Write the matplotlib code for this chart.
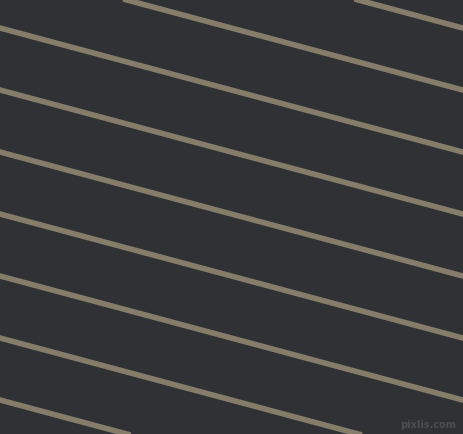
import matplotlib
matplotlib.use("Agg")
import matplotlib.pyplot as plt
import numpy as np

#---DATA---
# y position (px from top) where each stripe meets the left edge
intercepts = [-95, -33, 29, 91, 153, 215, 277, 339, 401]
slope = 0.268  # tan(15 deg), stripes fall to the right
watermark = "pixlis.com"

#---STYLE---
bg_color = "#2f3135"
line_color = "#857d69"

#---PLOT---
fig = plt.figure(figsize=(4.64, 4.35), dpi=100)
fig.patch.set_facecolor(bg_color)
ax = fig.add_axes([0, 0, 1, 1])
ax.set_facecolor(bg_color)
ax.set_xlim(0, 464)
ax.set_ylim(435, 0)
ax.axis("off")

xs = np.array([-10, 474])
for b in intercepts:
    ax.plot(xs, b + slope * xs, color=line_color, linewidth=4.0,
            solid_capstyle="butt")

ax.text(456, 428, watermark, ha="right", va="baseline", fontsize=7,
        color="#4c4e52", fontweight="bold")

fig.savefig("out.png", dpi=100, facecolor=bg_color)
